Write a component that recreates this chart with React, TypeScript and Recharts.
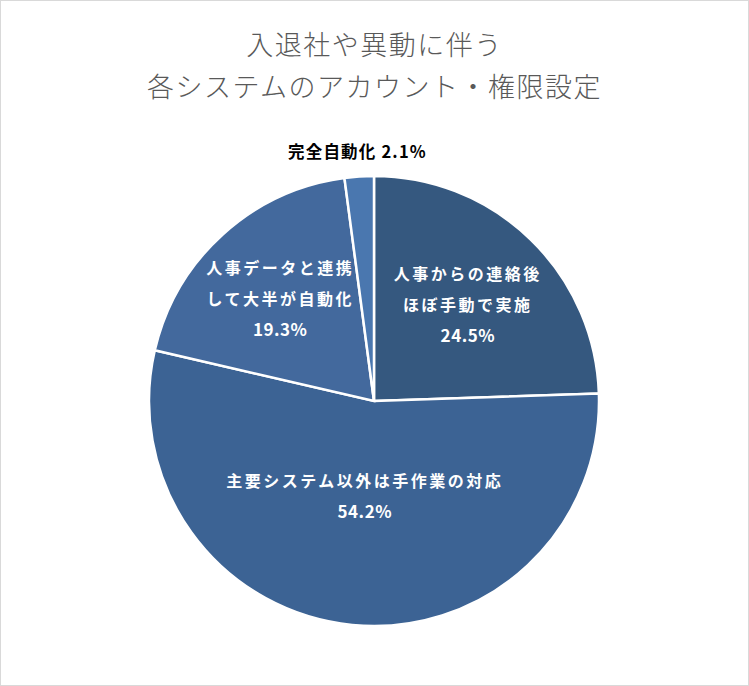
import React from "react";
import { PieChart, Pie, Cell } from "recharts";

const categories = [
  ["人事からの連絡後", "ほぼ手動で実施"],
  ["主要システム以外は手作業の対応"],
  ["人事データと連携", "して大半が自動化"],
  ["完全自動化"],
];
const values = [24.5, 54.2, 19.3, 2.1];
const valueLabels = ["24.5%", "54.2%", "19.3%", "2.1%"];
const titleLines = ["入退社や異動に伴う", "各システムのアカウント・権限設定"];

const colors = ["#35587F", "#3C6394", "#43699D", "#4A77AF"];
const labelRadius = [0.6, 0.42, 0.62, 1.115];

const data = values.map((v, i) => ({ name: categories[i].join(""), value: v }));

const FONT = '"Noto Sans CJK JP", "Noto Sans", sans-serif';
const RAD = Math.PI / 180;

const renderLabel = (props: any) => {
  const { cx, cy, midAngle, outerRadius, index } = props;
  const r = outerRadius * labelRadius[index];
  const x = cx + r * Math.cos(-midAngle * RAD);
  const y = cy + r * Math.sin(-midAngle * RAD);
  const outside = labelRadius[index] > 1;
  if (outside) {
    return (
      <text
        key={`l${index}`}
        x={x}
        y={y}
        textAnchor="middle"
        dominantBaseline="central"
        fill="#000000"
        fontFamily={FONT}
        fontWeight={700}
        fontSize={16.5}
        letterSpacing={1.2}
      >
        {categories[index].join("") + " " + valueLabels[index]}
      </text>
    );
  }
  const lines = [...categories[index], valueLabels[index]];
  const lh = 30.5;
  const y0 = y - ((lines.length - 1) * lh) / 2;
  return (
    <text
      key={`l${index}`}
      textAnchor="middle"
      fill="#ffffff"
      fontFamily={FONT}
      fontWeight={700}
      fontSize={16}
    >
      {lines.map((ln, k) => (
        <tspan
          key={k}
          x={x}
          y={y0 + k * lh}
          dominantBaseline="central"
          letterSpacing={k === lines.length - 1 ? 0.5 : 2.5}
          fontSize={k === lines.length - 1 ? 17 : 16}
        >
          {ln}
        </tspan>
      ))}
    </text>
  );
};

export default function App() {
  return (
    <div
      style={{
        position: "absolute",
        left: 0,
        top: 0,
        width: 749,
        height: 686,
        boxSizing: "border-box",
        border: "1px solid #d9d9d9",
        background: "#ffffff",
      }}
    >
      <div
        style={{
          position: "absolute",
          left: 0,
          top: 22,
          width: 747,
          textAlign: "center",
          fontFamily: FONT,
          fontWeight: 300,
          fontSize: 27,
          letterSpacing: 1.5,
          color: "#595959",
          lineHeight: "42px",
        }}
      >
        {titleLines.map((t, i) => (
          <div key={i}>{t}</div>
        ))}
      </div>
      <div style={{ position: "absolute", left: -1, top: -1 }}>
        <PieChart
          width={749}
          height={686}
          margin={{ top: 0, right: 0, bottom: 0, left: 0 }}
        >
          <Pie
            data={data}
            dataKey="value"
            cx={374}
            cy={401}
            outerRadius={225}
            startAngle={90}
            endAngle={-270}
            stroke="#ffffff"
            strokeWidth={2.5}
            label={renderLabel}
            labelLine={false}
            isAnimationActive={false}
          >
            {data.map((d, i) => (
              <Cell key={i} fill={colors[i]} />
            ))}
          </Pie>
        </PieChart>
      </div>
    </div>
  );
}
